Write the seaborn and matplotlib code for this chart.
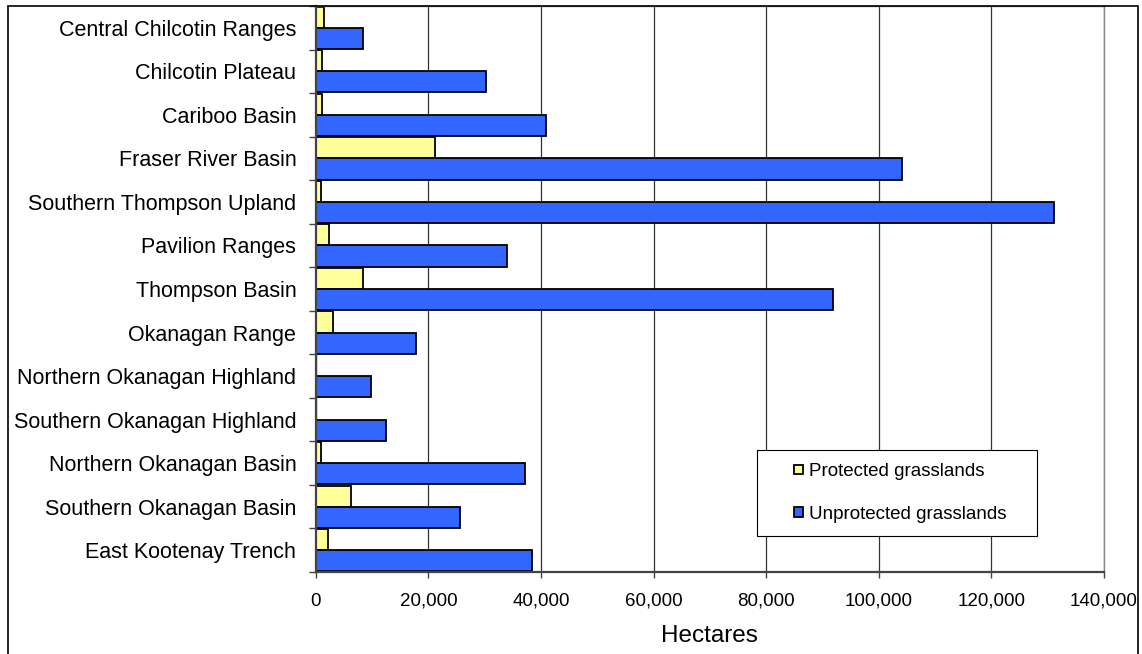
import numpy as np
import pandas as pd
import matplotlib
matplotlib.use("Agg")
import matplotlib.pyplot as plt
import seaborn as sns
from matplotlib.patches import Rectangle
from matplotlib.legend_handler import HandlerPatch
from matplotlib.ticker import FuncFormatter, FixedLocator

regions = ["Central Chilcotin Ranges", "Chilcotin Plateau", "Cariboo Basin",
           "Fraser River Basin", "Southern Thompson Upland", "Pavilion Ranges",
           "Thompson Basin", "Okanagan Range", "Northern Okanagan Highland",
           "Southern Okanagan Highland", "Northern Okanagan Basin",
           "Southern Okanagan Basin", "East Kootenay Trench"]
protected = [1500, 1200, 1200, 21200, 900, 2400, 8400, 3100, 0, 0, 900, 6200, 2200]
unprotected = [8450, 30200, 40900, 104100, 131200, 34000, 91800, 17800, 9900,
               12500, 37200, 25600, 38400]
series = ["Protected grasslands", "Unprotected grasslands"]
colors = ["#FFFF99", "#3366FF"]

df = pd.DataFrame({
    "region": regions * 2,
    "hectares": protected + unprotected,
    "type": [series[0]] * len(regions) + [series[1]] * len(regions),
})

sns.set_style("white")
plt.rcParams["font.family"] = ["Liberation Sans", "DejaVu Sans"]
plt.rcParams["text.color"] = "black"
plt.rcParams["xtick.color"] = "black"
plt.rcParams["ytick.color"] = "black"
plt.rcParams["axes.labelcolor"] = "black"

fig = plt.figure(figsize=(11.42, 6.54), dpi=100)
ax = fig.add_axes([315.7 / 1142, 1 - 572 / 654, (1104 - 315.7) / 1142, 566 / 654])

sns.barplot(data=df, y="region", x="hectares", hue="type", hue_order=series,
            palette=colors, orient="h", width=0.97, saturation=1,
            edgecolor="black", linewidth=1.3, ax=ax)

ax.set_xlim(0, 140000)
ax.set_ylim(len(regions) - 0.5, -0.5)
ax.set_xticks(np.arange(0, 140001, 20000))
ax.xaxis.set_major_formatter(FuncFormatter(lambda v, p: f"{int(v):,}"))
ax.grid(axis="x", color="#333333", linewidth=0.9)
ax.set_axisbelow(True)

# category separators as minor ticks
ax.yaxis.set_minor_locator(FixedLocator(np.arange(-0.5, len(regions), 1)))
ax.tick_params(axis="y", which="major", length=0, pad=14, labelsize=15.5)
ax.tick_params(axis="y", which="minor", length=5, width=1, color="#444444", direction="out", left=True)
ax.tick_params(axis="x", length=4, width=1, color="#444444", direction="out", bottom=True,
               pad=11, labelsize=13.5)

ax.set_ylabel("")
ax.set_xlabel("Hectares", fontsize=17.5, labelpad=11)

for side in ["left", "bottom"]:
    ax.spines[side].set_color("#444444")
    ax.spines[side].set_linewidth(1.6)
for side in ["top", "right"]:
    ax.spines[side].set_color("#888888")
    ax.spines[side].set_linewidth(1.0)


def square_right(legend, orig_handle, xdescent, ydescent, width, height, fontsize):
    # small square sitting at the right end of the handle slot
    s = 0.5 * fontsize
    return Rectangle((width - xdescent - s, (height - s) / 2 - ydescent), s, s)


handles, labels = ax.get_legend_handles_labels()
lw_box = (1037 - 757) / 788.3
ax.legend(handles, labels, loc="upper left",
          bbox_to_anchor=((757 - 315.7) / 788.3, (572 - 450) / 566, lw_box, 0.0),
          mode="expand", fontsize=13.5, frameon=True, fancybox=False, framealpha=1,
          edgecolor="black", handlelength=1.75, handleheight=0.7,
          handletextpad=0.3, labelspacing=1.35, borderpad=0.7, borderaxespad=0,
          handler_map={h: HandlerPatch(patch_func=square_right) for h in handles})
leg = ax.get_legend()
leg.get_frame().set_linewidth(0.8)

# outer frame around the chart
fig.patches.append(Rectangle((8 / 1142, -0.05), 1130 / 1142, 1.05 - 6 / 654,
                             transform=fig.transFigure, fill=False,
                             edgecolor="black", linewidth=1.2))

fig.savefig("out.png", dpi=100)
